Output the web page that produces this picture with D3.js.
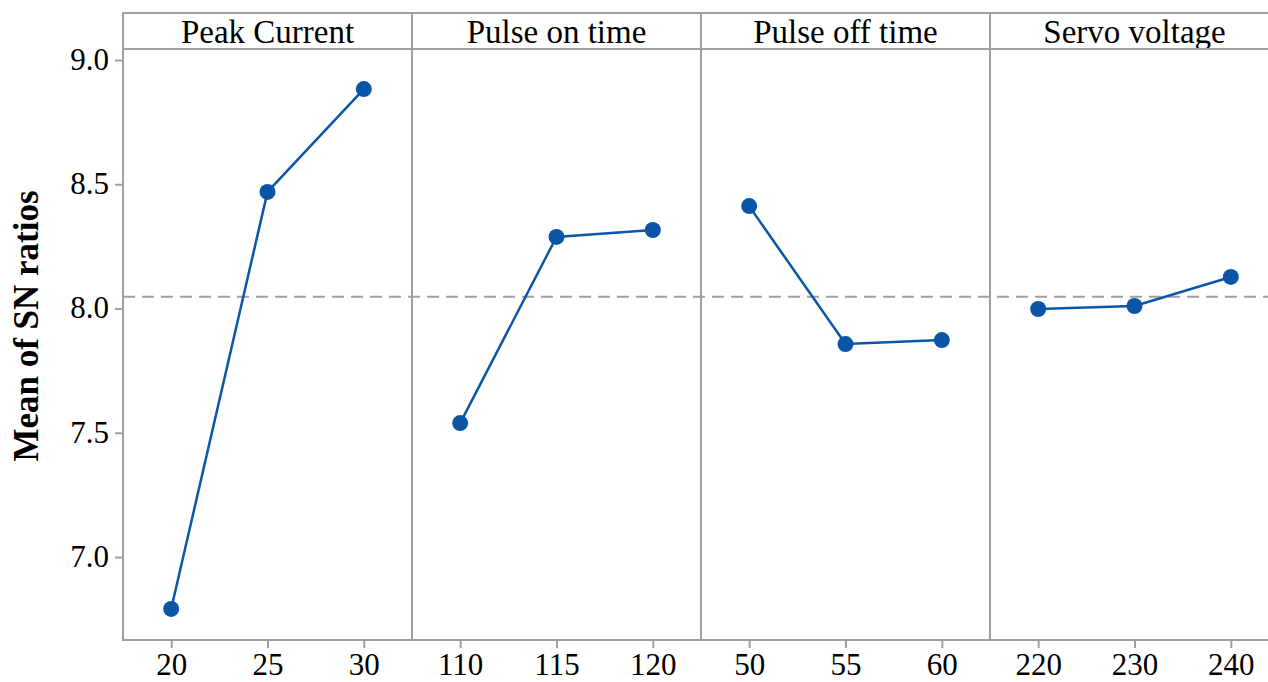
<!DOCTYPE html>
<html><head><meta charset="utf-8">
<script src="https://cdn.jsdelivr.net/npm/d3@7"></script>
<style>body{margin:0;background:#fff}svg{display:block}</style>
</head><body>
<svg id="c" width="1268" height="682"></svg>
<script>
const factors = ["Peak Current", "Pulse on time", "Pulse off time", "Servo voltage"];
const levels = [["20","25","30"],["110","115","120"],["50","55","60"],["220","230","240"]];
const peakCurrent = [6.791, 8.469, 8.883];
const pulseOn = [7.539, 8.288, 8.316];
const pulseOff = [8.412, 7.857, 7.873];
const servo = [7.998, 8.010, 8.127];
const seriesValues = [peakCurrent, pulseOn, pulseOff, servo];
const yTicks = [7.0, 7.5, 8.0, 8.5, 9.0];
const yLabel = "Mean of SN ratios";

(function(){
const svg = d3.select("#c");
const mLeft = 123, mRight = 1279, mTop = 13, headerBottom = 49, mBottom = 640;
const gray = "#a0a0a0", blue = "#0a56a8";
const font = "'Liberation Serif','Times New Roman',serif";

const y = d3.scaleLinear().domain([7.0, 9.0]).range([557, 60]);
const panelX = d3.scaleBand().domain(factors).range([mLeft, mRight]);
const pw = panelX.bandwidth();

const allVals = seriesValues.flat();
const mean = d3.mean(allVals);

// y axis
const yAxis = svg.append("g").attr("transform", `translate(${mLeft},0)`)
  .call(d3.axisLeft(y).tickValues(yTicks).tickFormat(d3.format(".1f")).tickSizeOuter(0).tickSizeInner(8).tickPadding(6));
yAxis.select(".domain").remove();
yAxis.selectAll("line").attr("stroke", gray).attr("stroke-width", 2);
yAxis.selectAll("text").attr("font-family", font).attr("font-size", 31).attr("fill", "#000").attr("dy", "0.3em");

svg.append("text").attr("transform", `translate(38,326) rotate(-90)`)
  .attr("text-anchor", "middle").attr("font-family", font).attr("font-weight", "bold")
  .attr("font-size", 35).text(yLabel);

// mean dashed line
svg.append("line").attr("x1", mLeft).attr("x2", mRight).attr("y1", y(mean)).attr("y2", y(mean))
  .attr("stroke", gray).attr("stroke-width", 2).attr("stroke-dasharray", "12,7");

factors.forEach((f, i) => {
  const x0 = panelX(f);
  const x = d3.scalePoint().domain(levels[i]).range([x0, x0 + pw]).padding(0.5);
  const g = svg.append("g");
  const ax = g.append("g").attr("transform", `translate(0,${mBottom})`)
    .call(d3.axisBottom(x).tickSizeOuter(0).tickSizeInner(8).tickPadding(5));
  ax.select(".domain").remove();
  ax.selectAll("line").attr("stroke", gray).attr("stroke-width", 2);
  ax.selectAll("text").attr("font-family", font).attr("font-size", 31).attr("fill", "#000");

  const vals = seriesValues[i];
  const pts = levels[i].map((l, k) => [x(l), y(vals[k])]);
  g.append("path").attr("d", d3.line()(pts)).attr("fill", "none").attr("stroke", blue).attr("stroke-width", 2.5);
  g.selectAll("circle").data(pts).join("circle").attr("cx", d => d[0]).attr("cy", d => d[1])
    .attr("r", 8).attr("fill", "#0b55a6");

  g.append("text").attr("x", x0 + pw / 2).attr("y", 43).attr("text-anchor", "middle")
    .attr("font-family", font).attr("font-size", 33).text(f);

  if (i > 0) svg.append("line").attr("x1", x0).attr("x2", x0).attr("y1", mTop).attr("y2", mBottom)
    .attr("stroke", gray).attr("stroke-width", 2);
});

// frame
svg.append("rect").attr("x", mLeft).attr("y", mTop).attr("width", mRight - mLeft).attr("height", mBottom - mTop)
  .attr("fill", "none").attr("stroke", gray).attr("stroke-width", 2);
svg.append("line").attr("x1", mLeft).attr("x2", mRight).attr("y1", headerBottom).attr("y2", headerBottom)
  .attr("stroke", gray).attr("stroke-width", 2);
})();
</script>
</body></html>
